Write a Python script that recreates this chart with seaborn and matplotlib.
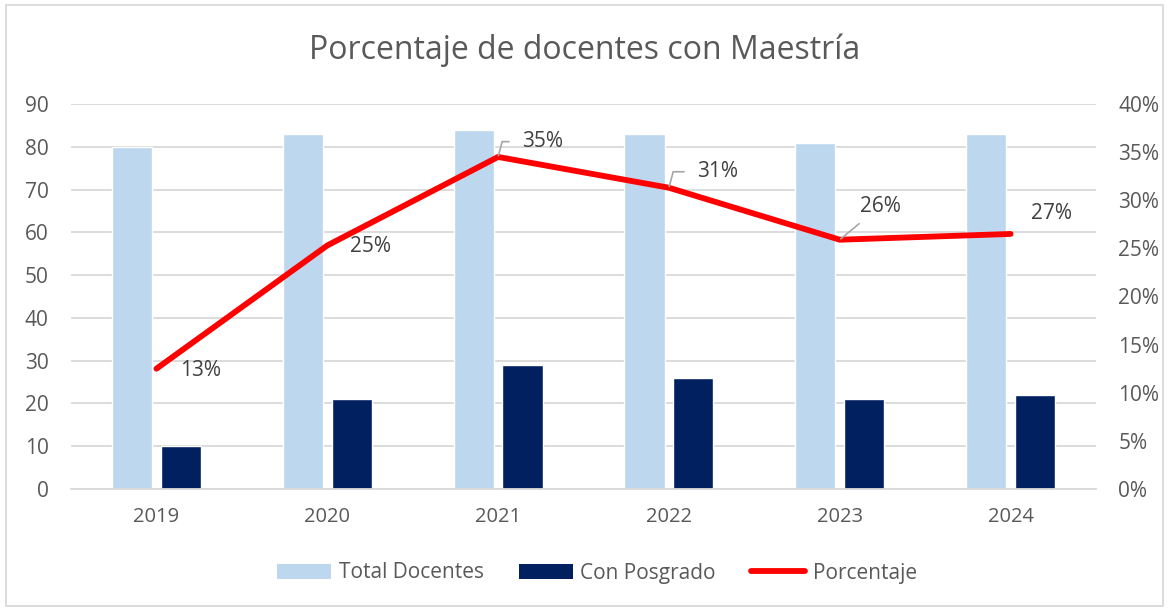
import numpy as np
import pandas as pd
import seaborn as sns
import matplotlib.pyplot as plt
from matplotlib.patches import Patch, Rectangle
from matplotlib.lines import Line2D
from matplotlib.ticker import PercentFormatter

# chart values
years = ['2019', '2020', '2021', '2022', '2023', '2024']
total_docentes = [80, 83, 84, 83, 81, 83]
con_posgrado = [10, 21, 29, 26, 21, 22]
porcentaje = [0.125, 0.253, 0.345, 0.313, 0.259, 0.265]
pct_labels = ['13%', '25%', '35%', '31%', '26%', '27%']

light = '#BDD7EE'
dark = '#002060'
red = '#FF0000'
grey_txt = '#595959'
grid = '#D9D9D9'

sns.set_style('white')
plt.rcParams['font.family'] = ['Open Sans', 'DejaVu Sans']

df = pd.DataFrame({
    'year': years * 2,
    'value': total_docentes + con_posgrado,
    'serie': ['Total Docentes'] * 6 + ['Con Posgrado'] * 6,
})

fig = plt.figure(figsize=(11.7, 6.09), dpi=100)
ax = fig.add_axes([71 / 1170, 1 - 489 / 609, 1025 / 1170, 385 / 609])

sns.barplot(data=df, x='year', y='value', hue='serie',
            palette=[light, dark], width=0.572, gap=0.18,
            legend=False, ax=ax, saturation=1)
ax.set_ylim(0, 90)
ax.set_xlim(-0.5, 5.5)
ax.set_yticks(range(0, 91, 10))
ax.yaxis.grid(True, color=grid, linewidth=1.3)
ax.set_axisbelow(True)
ax.set_xlabel('')
ax.set_ylabel('')
for s in ['left', 'right', 'top']:
    ax.spines[s].set_visible(False)
ax.spines['bottom'].set_color(grid)
ax.spines['bottom'].set_linewidth(1.3)
ax.tick_params(axis='y', length=0, pad=16, labelsize=15, labelcolor=grey_txt)
ax.tick_params(axis='x', length=0, pad=13, labelsize=14.5, labelcolor=grey_txt)

ax2 = ax.twinx()
x = np.arange(len(years))
sns.lineplot(x=x, y=porcentaje, ax=ax2, color=red, linewidth=4.2,
             solid_capstyle='round')
ax2.set_ylim(0, 0.4)
ax2.set_yticks(np.arange(0, 0.41, 0.05))
ax2.yaxis.set_major_formatter(PercentFormatter(1.0, decimals=0))
ax2.tick_params(axis='y', length=0, pad=16, labelsize=15, labelcolor=grey_txt)
for s in ['left', 'right', 'top', 'bottom']:
    ax2.spines[s].set_visible(False)
ax2.set_xlim(-0.5, 5.5)

# data labels (offsets in points)
offsets = [(32, -1.5), (31, -1), (32, 11), (35, 11.5), (29, 24), (29.5, 15)]
leaders = [None, None, 'angle', 'angle', 'straight', None]
for i, (lab, off, lead) in enumerate(zip(pct_labels, offsets, leaders)):
    kw = {}
    if lead == 'angle':
        kw['arrowprops'] = dict(arrowstyle='-', color='#A6A6A6', lw=1.2,
                                shrinkA=7, shrinkB=1,
                                connectionstyle='angle,angleA=0,angleB=75,rad=0')
    elif lead == 'straight':
        kw['arrowprops'] = dict(arrowstyle='-', color='#A6A6A6', lw=1.2,
                                shrinkA=4, shrinkB=1)
    ax2.annotate(lab, (x[i], porcentaje[i]), xytext=off,
                 textcoords='offset points', fontsize=15, color='#404040',
                 ha='center', va='center', **kw)

fig.text(0.5, 1 - 50 / 609, 'Porcentaje de docentes con Maestría',
         ha='center', va='center', fontsize=23, color=grey_txt)

handles = [Patch(facecolor=light, edgecolor='none'),
           Patch(facecolor=dark, edgecolor='none'),
           Line2D([0], [0], color=red, linewidth=4.2, solid_capstyle='round')]
fig.legend(handles, ['Total Docentes', 'Con Posgrado', 'Porcentaje'],
           loc='center', bbox_to_anchor=(597 / 1170, 1 - 573 / 609), ncol=3,
           frameon=False, fontsize=15, labelcolor=grey_txt,
           handlelength=2.6, handleheight=0.75, handletextpad=0.35,
           columnspacing=1.7)

fig.patches.append(Rectangle((6 / 1170, 3 / 609), 1157 / 1170, 601 / 609,
                             transform=fig.transFigure, fill=False,
                             edgecolor=grid, linewidth=1.3))

fig.savefig('out.png', dpi=100)
